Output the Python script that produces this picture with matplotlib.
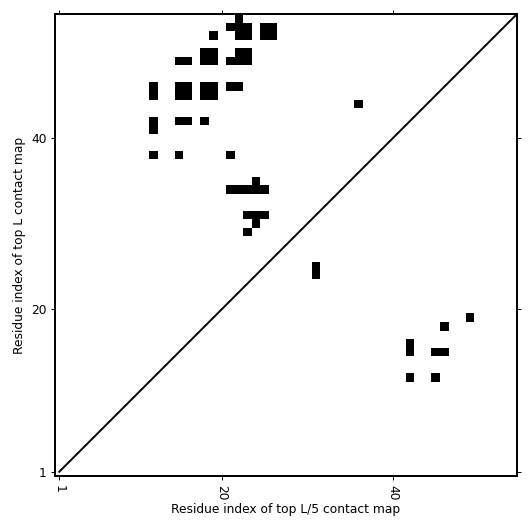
import numpy as np
import matplotlib
matplotlib.use('Agg')
import matplotlib.pyplot as plt

L = 54

# contacts as (residue x, residue y)
upper_x = [22, 21, 22, 23, 22, 23, 25, 26, 25, 26, 19,
           18, 19, 18, 19, 15, 16, 22, 23, 22, 23, 21,
           12, 12, 15, 16, 15, 16, 18, 19, 18, 19, 21, 22,
           12, 12, 15, 16, 18, 12, 15, 21, 36,
           24, 21, 22, 23, 24, 25, 23, 24, 25, 24, 23]
upper_y = [54, 53, 53, 53, 52, 52, 53, 53, 52, 52, 52,
           50, 50, 49, 49, 49, 49, 50, 50, 49, 49, 49,
           46, 45, 46, 46, 45, 45, 46, 46, 45, 45, 46, 46,
           42, 41, 42, 42, 42, 38, 38, 38, 44,
           35, 34, 34, 34, 34, 34, 31, 31, 31, 30, 29]
lower_x = [31, 31, 49, 46, 42, 42, 45, 46, 42, 45]
lower_y = [25, 24, 19, 18, 16, 15, 15, 15, 12, 12]

ticks = [1, 20, 40]

cmap = np.zeros((L, L))
for x, y in zip(upper_x + lower_x, upper_y + lower_y):
    cmap[y - 1, x - 1] = 1

fig = plt.figure(figsize=(6, 6), dpi=88.5)
ax = fig.add_axes([55 / 531, 55 / 531, 462 / 531, 462 / 531])

ax.imshow(cmap, cmap='Greys', origin='lower', interpolation='nearest',
          extent=(0.5, L + 0.5, 0.5, L + 0.5), vmin=0, vmax=1)
ax.plot([1, L + 0.5], [1, L + 0.5], color='black', lw=1.6)

ax.set_xlim(0.5, L + 0.5)
ax.set_ylim(0.5, L + 0.5)
ax.set_xticks(ticks)
ax.set_yticks(ticks)
ax.set_xticklabels([str(t) for t in ticks], rotation=270)
ax.tick_params(top=True, right=True, direction='out')
for s in ax.spines.values():
    s.set_linewidth(1.6)

ax.set_xlabel('Residue index of top L/5 contact map', labelpad=2)
ax.set_ylabel('Residue index of top L contact map')

fig.savefig('out.png', dpi=88.5)
